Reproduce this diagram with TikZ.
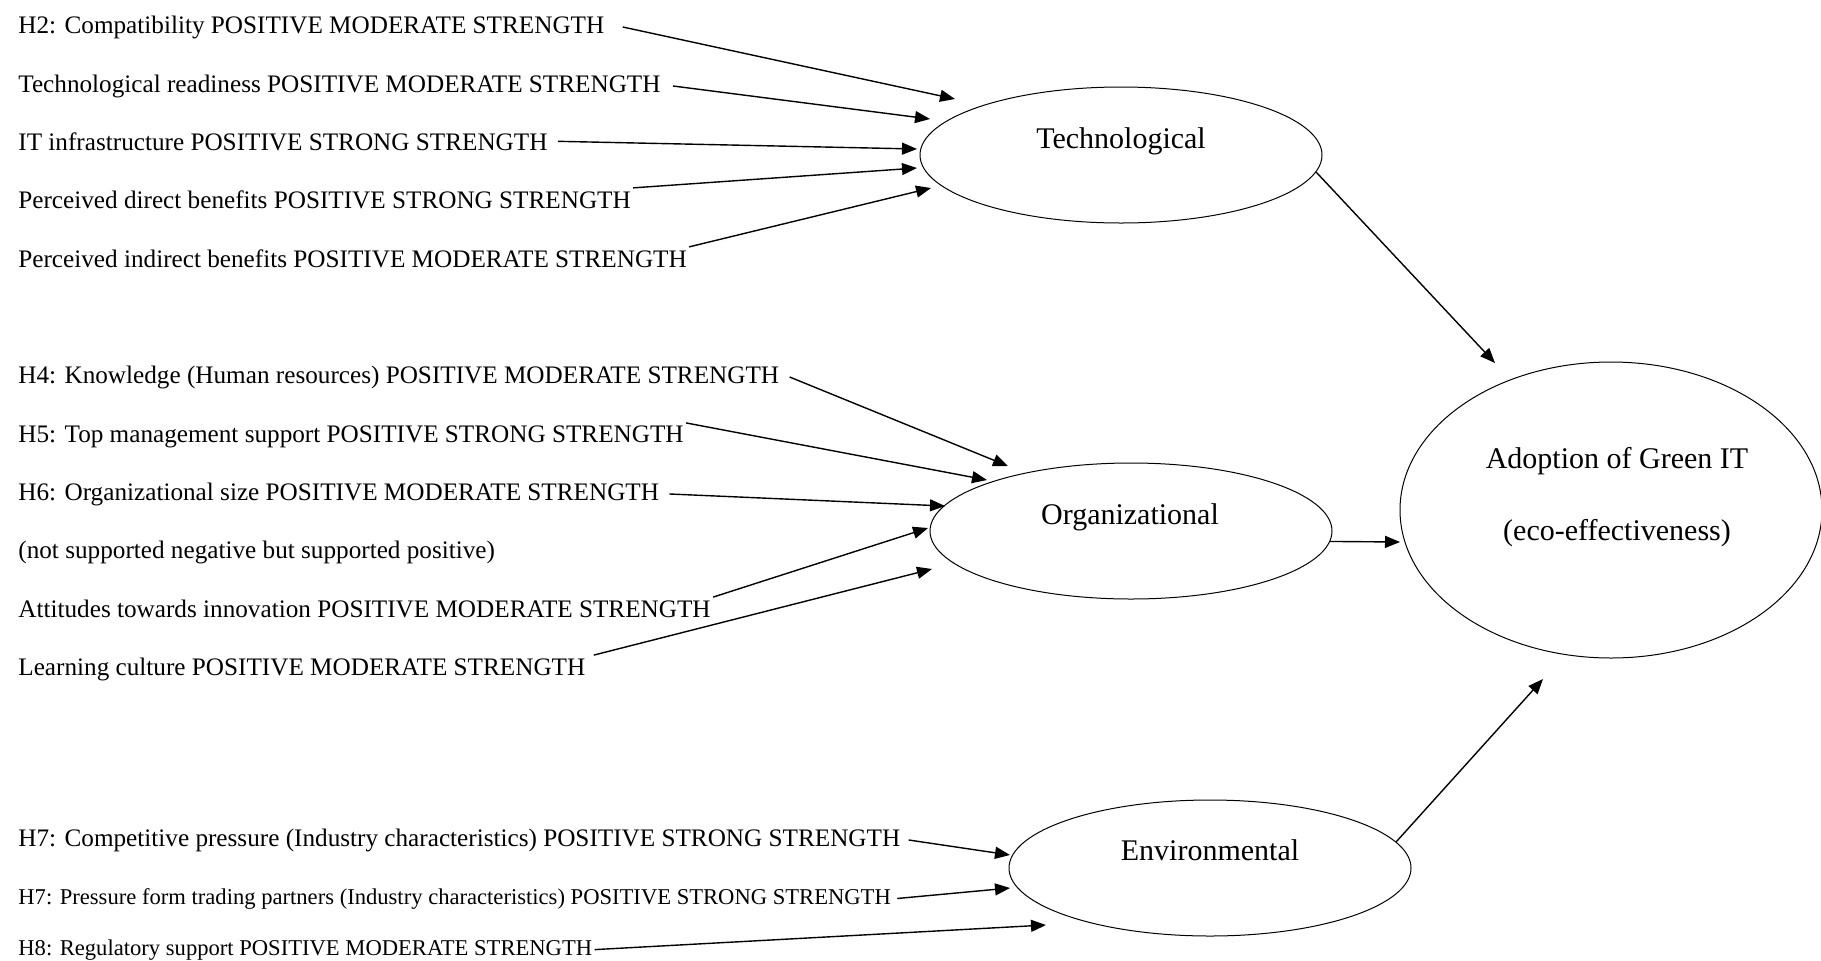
\documentclass[tikz,border=0pt]{standalone}
\usepackage{fontspec}
\setmainfont{Liberation Serif}
\usetikzlibrary{arrows.meta,shapes.geometric}

\tikzset{
  factor/.style={anchor=base west,inner sep=1pt,font=\fontsize{12.6}{15}\selectfont},
  smallfactor/.style={factor,font=\fontsize{11.3}{13}\selectfont},
  construct/.style={draw,ellipse,line width=0.5pt,inner sep=0pt,minimum width=201pt,minimum height=68pt},
  title/.style={anchor=base,inner sep=0pt,font=\fontsize{15}{18}\selectfont},
  link/.style={-{Triangle[length=7.5pt,width=6pt]},line width=0.7pt},
}

\begin{document}
\begin{tikzpicture}[x=0.5pt,y=-0.5pt]
  \useasboundingbox (0,0) rectangle (1821,960);

  % constructs
  \node[construct] (tech) at (1121,155) {};
  \node[title] (techlbl) at (1121,148) {Technological};
  \node[construct] (org) at (1131,531) {};
  \node[title] (orglbl) at (1130,524) {Organizational};
  \node[construct] (env) at (1210,868) {};
  \node[title] (envlbl) at (1210,860) {Environmental};
  \node[construct,minimum width=211pt,minimum height=148pt] (adopt) at (1611,510) {};
  \node[title] (adoptlbl) at (1617,468) {Adoption of Green IT};
  \node[title] (ecolbl) at (1617,540) {(eco-effectiveness)};

  % technological factors
  \node[factor] (h2) at (16,33) {H2: Compatibility POSITIVE MODERATE STRENGTH};
  \node[factor] (ready) at (16,92) {Technological readiness POSITIVE MODERATE STRENGTH};
  \node[factor] (infra) at (16,150) {IT infrastructure POSITIVE STRONG STRENGTH};
  \node[factor] (direct) at (16,208) {Perceived direct benefits POSITIVE STRONG STRENGTH};
  \node[factor] (indirect) at (16,267) {Perceived indirect benefits POSITIVE MODERATE STRENGTH};

  % organizational factors
  \node[factor] (h4) at (16,383) {H4: Knowledge (Human resources) POSITIVE MODERATE STRENGTH};
  \node[factor] (h5) at (16,442) {H5: Top management support POSITIVE STRONG STRENGTH};
  \node[factor] (h6) at (16,500) {H6: Organizational size POSITIVE MODERATE STRENGTH};
  \node[factor] (note) at (16,558) {(not supported negative but supported positive)};
  \node[factor] (attitude) at (16,617) {Attitudes towards innovation POSITIVE MODERATE STRENGTH};
  \node[factor] (learning) at (16,675) {Learning culture POSITIVE MODERATE STRENGTH};

  % environmental factors
  \node[factor] (h7a) at (16,846) {H7: Competitive pressure (Industry characteristics) POSITIVE STRONG STRENGTH};
  \node[smallfactor] (h7b) at (16,904) {H7: Pressure form trading partners (Industry characteristics) POSITIVE STRONG STRENGTH};
  \node[smallfactor] (h8) at (16,955) {H8: Regulatory support POSITIVE MODERATE STRENGTH};

  % arrow tips
  \coordinate (t1) at (955,99);  \coordinate (t2) at (930,119);
  \coordinate (t3) at (917,149); \coordinate (t4) at (917,168);
  \coordinate (t5) at (931,188);
  \coordinate (o1) at (1008,466); \coordinate (o2) at (987,480);
  \coordinate (o3) at (945,506);  \coordinate (o4) at (928,528);
  \coordinate (o5) at (932,569);
  \coordinate (e1) at (1010,855); \coordinate (e2) at (1010,888);
  \coordinate (e3) at (1046,925);
  \coordinate (a1) at (1495,363); \coordinate (a2) at (1400,542);
  \coordinate (a3) at (1543,679);

  \draw[link] ([xshift=8pt]h2.east) -- (t1);
  \draw[link] ([xshift=5pt]ready.east) -- (t2);
  \draw[link] ([xshift=4pt]infra.east) -- (t3);
  \draw[link] (direct.north east) -- (t4);
  \draw[link] (indirect.north east) -- (t5);

  \draw[link] ([xshift=4pt]h4.east) -- (o1);
  \draw[link] (h5.north east) -- (o2);
  \draw[link] ([xshift=4pt]h6.east) -- (o3);
  \draw[link] (attitude.north east) -- (o4);
  \draw[link] ([xshift=3pt]learning.north east) -- (o5);

  \draw[link] ([xshift=3pt]h7a.east) -- (e1);
  \draw[link] ([xshift=2pt]h7b.east) -- (e2);
  \draw[link] (h8.east) -- (e3);

  \draw[link] (tech.-5) -- (a1);
  \draw[link] (org.-3) -- (a2);
  \draw[link] (env.8) -- (a3);
\end{tikzpicture}
\end{document}
